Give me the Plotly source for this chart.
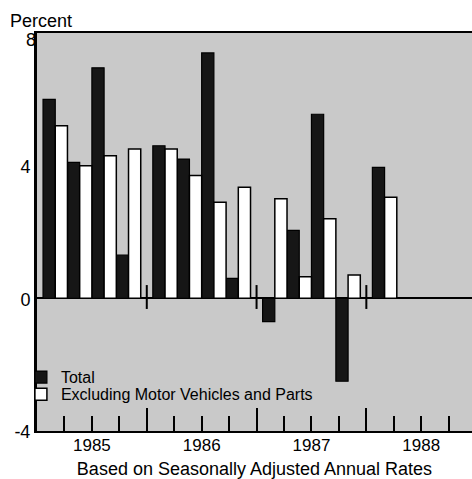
import plotly.graph_objects as go

# ---- data ----
years = [1985, 1985, 1985, 1985, 1986, 1986, 1986, 1986, 1987, 1987, 1987, 1987, 1988]
quarters = [1, 2, 3, 4, 1, 2, 3, 4, 1, 2, 3, 4, 1]
total = [6.0, 4.1, 6.95, 1.3, 4.6, 4.2, 7.4, 0.6, -0.7, 2.05, 5.55, -2.5, 3.95]
excl_motor = [5.2, 4.0, 4.3, 4.5, 4.5, 3.7, 2.9, 3.35, 3.0, 0.65, 2.4, 0.7, 3.05]
year_labels = ["1985", "1986", "1987", "1988"]
y_ticks = [-4, 0, 4, 8]
y_tick_text = ["-4", "0", "4", "8"]

# ---- layout helpers (x axis measured in quarters, 4 per year) ----
FIRST_YEAR = 1985
PAIR = 0.89  # width of a quarter's pair of bars (quarters packed, gap at year end)
x_pos = [(y - FIRST_YEAR) * 4 + 2 + (q - 2.5) * PAIR for y, q in zip(years, quarters)]
year_centers = [i * 4 + 2 for i in range(len(year_labels))]
year_bounds = [i * 4 for i in range(1, len(year_labels))]
X_RANGE = [0, 15.85]
Y_RANGE = [-4, 8]

FONT = "Liberation Sans, Arial, Helvetica, sans-serif"
TICKFONT = dict(size=18, family=FONT, color="black")

fig = go.Figure()
fig.add_trace(go.Bar(
    x=x_pos, y=total, name="Total", xaxis="x", yaxis="y", legend="legend",
    width=PAIR / 2, offset=-PAIR / 2,
    marker=dict(color="#161616", line=dict(color="black", width=1.2)),
))
fig.add_trace(go.Bar(
    x=x_pos, y=excl_motor, name="Excluding Motor Vehicles and Parts",
    xaxis="x2", yaxis="y2", legend="legend2",
    width=PAIR / 2, offset=0,
    marker=dict(color="white", line=dict(color="black", width=1.5)),
))

shapes = []
for b in year_bounds:
    shapes.append(dict(type="line", xref="x", yref="y", x0=b, x1=b, y0=-0.32, y1=0.4,
                       line=dict(color="black", width=2)))

legend_common = dict(xanchor="left", yanchor="top", bgcolor="rgba(0,0,0,0)",
                     font=dict(size=16, family=FONT, color="black"))

fig.update_layout(
    width=472, height=479,
    margin=dict(l=37, r=0, t=33, b=48),
    paper_bgcolor="white",
    plot_bgcolor="#c9c9c9",
    barmode="overlay",
    font=dict(family=FONT, color="black"),
    shapes=shapes,
    showlegend=True,
    legend=dict(x=-0.037, y=0.178, **legend_common),
    legend2=dict(x=-0.037, y=0.135, **legend_common),
    xaxis=dict(
        range=X_RANGE, showgrid=False, zeroline=False,
        tickmode="array", tickvals=year_centers, ticktext=year_labels, ticks="",
        tickfont=dict(size=17, family=FONT, color="black"),
        ticklabelstandoff=-2,
        showline=True, linewidth=2, linecolor="black", mirror=True,
        title=dict(text="Based on Seasonally Adjusted Annual Rates",
                   font=dict(size=18, family=FONT, color="black"), standoff=8),
    ),
    xaxis2=dict(
        overlaying="x", anchor="y2", side="bottom", range=X_RANGE,
        showgrid=False, zeroline=False, showline=False,
        tickmode="array", tickvals=year_bounds, showticklabels=False,
        ticks="inside", ticklen=23, tickwidth=2, tickcolor="black",
        minor=dict(ticks="inside", tickmode="linear", tick0=0, dtick=1,
                   ticklen=15, tickwidth=2, tickcolor="black", showgrid=False),
    ),
    yaxis=dict(
        range=Y_RANGE, showgrid=False,
        zeroline=True, zerolinecolor="black", zerolinewidth=2,
        showline=True, linewidth=3, linecolor="black",
        tickmode="array", tickvals=y_ticks[:-1], ticktext=y_tick_text[:-1], ticks="",
        tickfont=TICKFONT, ticklabelstandoff=0, ticklabelshift=1,
    ),
    # top label ("8") sits a little below the frame in the original
    yaxis2=dict(
        overlaying="y", anchor="x2", side="left", range=Y_RANGE,
        showgrid=False, zeroline=False, showline=False,
        tickmode="array", tickvals=y_ticks[-1:], ticktext=y_tick_text[-1:], ticks="",
        tickfont=TICKFONT, ticklabelstandoff=0, ticklabelshift=7,
    ),
    annotations=[dict(
        text="Percent", xref="paper", yref="paper", x=-0.067, y=1.030,
        xanchor="left", yanchor="middle", showarrow=False,
        font=dict(size=18, family=FONT, color="black"),
    )],
)

# remove the browser's default page margin so the figure fills the window
fig.write_html(
    "out.html",
    config={"displayModeBar": False},
    post_script="document.body.style.margin='0';document.body.style.overflow='hidden';",
)
